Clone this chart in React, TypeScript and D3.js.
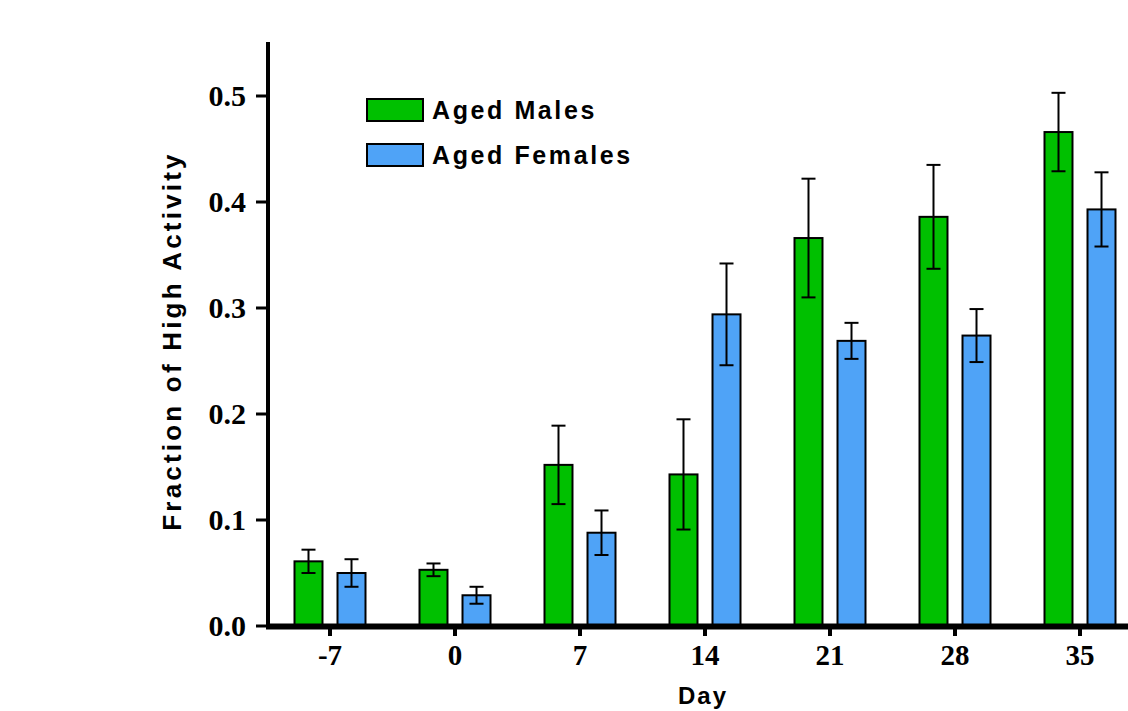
import React from 'react';
import * as d3 from 'd3';

const days = ['-7', '0', '7', '14', '21', '28', '35'];
const series = ['Aged Males', 'Aged Females'];
const males = [0.061, 0.053, 0.152, 0.143, 0.366, 0.386, 0.466];
const malesErr = [0.011, 0.006, 0.037, 0.052, 0.056, 0.049, 0.037];
const females = [0.05, 0.029, 0.088, 0.294, 0.269, 0.274, 0.393];
const femalesErr = [0.013, 0.008, 0.021, 0.048, 0.017, 0.025, 0.035];
const yTicks = [0, 0.1, 0.2, 0.3, 0.4, 0.5];
const colors = ['#00c000', '#4fa3f7'];

const App = () => {
  const width = 1128;
  const height = 711;

  const x = d3.scaleBand().domain(days).range([267.5, 1142.5]);
  const x1 = d3.scaleBand().domain(series).range([27, 98]).paddingInner(0.349);
  const y = d3.scaleLinear().domain([0, 0.55]).range([626, 43]);

  const values = [males, females];
  const errs = [malesErr, femalesErr];
  const tickFont = 'Liberation Serif, Times New Roman, serif';
  const labelFont = 'Liberation Sans, Arial, sans-serif';

  return (
    <svg width={width} height={height} style={{ position: 'absolute', left: 0, top: 0, background: '#fff' }}>
      {/* bars */}
      {series.map((s, si) =>
        days.map((d, i) => {
          const v = values[si][i];
          const e = errs[si][i];
          const bx = (x(d) as number) + (x1(s) as number);
          const bw = x1.bandwidth();
          const cx = bx + bw / 2;
          return (
            <g key={s + d}>
              <rect x={bx} y={y(v)} width={bw} height={y(0) - y(v)} fill={colors[si]} stroke="#000" strokeWidth={2} />
              <line x1={cx} x2={cx} y1={y(v + e)} y2={y(v - e)} stroke="#000" strokeWidth={2} />
              <line x1={cx - 7} x2={cx + 7} y1={y(v + e)} y2={y(v + e)} stroke="#000" strokeWidth={2} />
              <line x1={cx - 7} x2={cx + 7} y1={y(v - e)} y2={y(v - e)} stroke="#000" strokeWidth={2} />
            </g>
          );
        })
      )}

      {/* y axis */}
      <line x1={268} x2={268} y1={y(0.55) - 1} y2={y(0) + 3} stroke="#000" strokeWidth={4} />
      {yTicks.map(t => (
        <g key={t}>
          <line x1={256} x2={268} y1={y(t)} y2={y(t)} stroke="#000" strokeWidth={3} />
          <text x={246} y={y(t)} dy="0.34em" textAnchor="end" fontFamily={tickFont} fontWeight="bold" fontSize={30}>
            {d3.format('.1f')(t)}
          </text>
        </g>
      ))}

      {/* x axis */}
      <line x1={266} x2={width} y1={y(0) + 0.5} y2={y(0) + 0.5} stroke="#000" strokeWidth={6} />
      {days.map(d => {
        const cx = (x(d) as number) + x.bandwidth() / 2;
        return (
          <g key={d}>
            <line x1={cx} x2={cx} y1={y(0)} y2={y(0) + 10} stroke="#000" strokeWidth={4} />
            <text x={cx} y={665} textAnchor="middle" fontFamily={tickFont} fontWeight="bold" fontSize={29}>
              {d}
            </text>
          </g>
        );
      })}

      {/* axis titles */}
      <text x={703} y={704} textAnchor="middle" fontFamily={labelFont} fontWeight="bold" fontSize={24} letterSpacing={2}>
        Day
      </text>
      <text
        transform={`translate(181, 341) rotate(-90)`}
        textAnchor="middle"
        fontFamily={labelFont}
        fontWeight="bold"
        fontSize={26}
        letterSpacing={3.2}
      >
        Fraction of High Activity
      </text>

      {/* legend */}
      {series.map((s, si) => (
        <g key={s} transform={`translate(367, ${99 + si * 45})`}>
          <rect x={0} y={0} width={56} height={22} fill={colors[si]} stroke="#000" strokeWidth={2} />
          <text x={65} y={20} fontFamily={labelFont} fontWeight="bold" fontSize={25} letterSpacing={2.6}>
            {s}
          </text>
        </g>
      ))}
    </svg>
  );
};

export default App;
